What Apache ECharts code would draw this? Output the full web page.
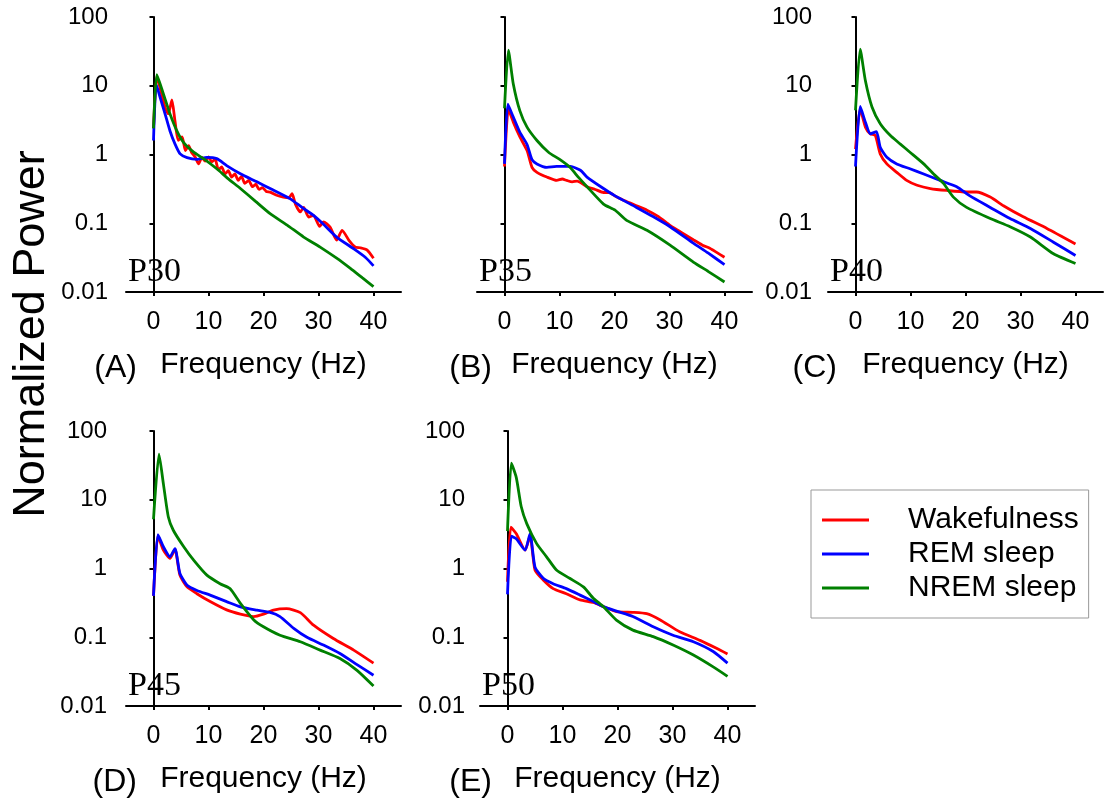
<!DOCTYPE html>
<html>
<head>
<meta charset="utf-8">
<script src="https://cdn.jsdelivr.net/npm/echarts@6/dist/echarts.min.js"></script>
<style>
  html, body { margin: 0; padding: 0; background: #fff; }
  #chart { width: 1104px; height: 807px; }
</style>
</head>
<body>
<div id="chart"></div>
<script>
// ---------- DATA (frequency Hz, normalized power) ----------
const seriesNames = ['Wakefulness', 'REM sleep', 'NREM sleep'];
const freqTicks = [0, 10, 20, 30, 40];
const panelLabels = ['P30', 'P35', 'P40', 'P45', 'P50'];
const panelLetters = ['(A)', '(B)', '(C)', '(D)', '(E)'];

const p30Wake = [[0,2.4],[0.6,14],[1.4,8],[2.1,4.85],[2.7,3.9],[3.35,6.2],[3.9,3.1],[4.5,1.6],[5.2,1.8],[5.8,1.14],[6.4,1.35],[6.9,1.08],[7.6,0.91],[8.2,0.73],[8.8,0.91],[9.4,0.8],[10,0.92],[10.6,0.78],[11.2,0.86],[11.8,0.6],[12.4,0.66],[13,0.52],[13.6,0.58],[14.2,0.47],[14.8,0.52],[15.4,0.42],[16,0.48],[16.6,0.38],[17.3,0.42],[18,0.34],[18.6,0.37],[19.2,0.31],[19.8,0.33],[20.5,0.29],[21.2,0.284],[22.4,0.255],[23.6,0.24],[24.6,0.235],[25.2,0.27],[25.8,0.19],[26.7,0.146],[27.3,0.17],[28.2,0.123],[29.1,0.13],[30.2,0.09],[30.9,0.105],[32.1,0.088],[33.3,0.057],[34.3,0.079],[35.5,0.057],[36.7,0.045],[37.6,0.044],[38.8,0.041],[40,0.031]];
const p30Rem = [[0,1.6],[0.5,10.5],[1.2,6.8],[2.1,3.9],[3,2.2],[3.9,1.43],[4.85,1.02],[6.1,0.9],[7.9,0.85],[9.7,0.91],[11.5,0.87],[13.3,0.69],[15.8,0.525],[18.8,0.4],[21.2,0.32],[24.8,0.228],[27,0.17],[29.1,0.13],[31,0.095],[33.3,0.063],[36.5,0.042],[38.5,0.032],[40,0.024]];
const p30Nrem = [[0,2.4],[0.6,14.5],[1.8,7.6],[3,3.9],[4.25,2.2],[5.45,1.5],[7.3,1.08],[9.1,0.87],[11.5,0.62],[13.5,0.45],[15.8,0.32],[18.5,0.21],[21.2,0.138],[24.3,0.094],[27.3,0.063],[30.3,0.045],[33.3,0.031],[35.8,0.022],[38,0.016],[40,0.012]];

const p35Wake = [[0,0.67],[0.7,4.6],[1.6,2.95],[2.8,1.8],[4.1,1.14],[5,0.65],[5.9,0.55],[7.7,0.47],[9.5,0.42],[10.5,0.44],[11.3,0.42],[12.3,0.4],[13.2,0.41],[15,0.34],[16.5,0.31],[18,0.28],[19,0.28],[20.1,0.25],[22,0.21],[24,0.18],[25.9,0.155],[28,0.125],[30.1,0.093],[32,0.075],[34.4,0.057],[36,0.048],[37.4,0.043],[38.5,0.038],[40,0.032]];
const p35Rem = [[0,0.73],[0.6,5.4],[1.6,3.5],[2.8,2.1],[4.1,1.4],[5,0.84],[5.9,0.73],[7.7,0.65],[9.5,0.67],[12,0.67],[13.8,0.59],[15,0.47],[18,0.32],[20.1,0.25],[24,0.17],[27,0.125],[30.1,0.089],[34.4,0.051],[37,0.037],[40,0.025]];
const p35Nrem = [[0,4.7],[0.7,33],[1.6,10.6],[2.8,4.3],[4.1,2.5],[5.9,1.6],[8,1.08],[10.1,0.84],[11.9,0.65],[13.5,0.46],[15,0.34],[18,0.19],[20.1,0.155],[22.2,0.11],[25.9,0.079],[30.1,0.048],[34.4,0.027],[37,0.02],[40,0.014]];

const p40Wake = [[0,1.2],[0.85,4.6],[1.8,2.5],[2.7,2.0],[3.6,1.9],[4.5,1.02],[5.7,0.73],[7.5,0.55],[9.3,0.42],[11.2,0.357],[13.6,0.32],[16.6,0.3],[20.2,0.285],[22,0.285],[24.5,0.24],[26.9,0.18],[30.5,0.124],[34.8,0.084],[40,0.05]];
const p40Rem = [[0,0.67],[0.85,5.0],[1.8,2.95],[2.7,2.0],[3.8,2.15],[4.5,1.27],[5.7,0.91],[7.5,0.73],[9.9,0.62],[12.4,0.52],[15.4,0.42],[18.4,0.34],[20.8,0.25],[24.5,0.17],[28.1,0.117],[31.8,0.084],[36,0.053],[40,0.034]];
const p40Nrem = [[0,4.4],[0.85,34],[1.8,11.8],[3,4.9],[4.5,2.8],[6.3,1.9],[8.1,1.43],[9.9,1.08],[12.4,0.73],[14.2,0.52],[16,0.38],[17.8,0.24],[20.2,0.17],[24.5,0.117],[28.1,0.089],[31.8,0.063],[36,0.036],[40,0.026]];

const p45Wake = [[0,0.4],[0.8,3.0],[1.8,1.85],[3,1.4],[3.9,1.9],[4.8,0.8],[6.1,0.54],[7.9,0.43],[10.3,0.33],[13.3,0.25],[15.8,0.217],[18.2,0.2],[20,0.217],[21.8,0.248],[24.2,0.26],[26.7,0.228],[29.1,0.15],[32.7,0.096],[36.4,0.065],[40,0.042]];
const p45Rem = [[0,0.4],[0.8,3.1],[1.8,2.07],[3,1.48],[3.9,1.95],[4.8,0.85],[6.1,0.57],[7.9,0.48],[10.3,0.41],[13.3,0.33],[15.8,0.277],[18.8,0.248],[21.2,0.23],[23,0.2],[25.5,0.135],[27.9,0.1],[30.9,0.077],[33.9,0.058],[37,0.04],[40,0.028]];
const p45Nrem = [[0,5.2],[1,46],[1.8,17],[2.7,5.6],[3.6,3.6],[5.5,2.07],[7.3,1.32],[9.7,0.8],[12.1,0.6],[13.9,0.51],[15.8,0.31],[18.2,0.18],[20,0.142],[23,0.107],[26.7,0.086],[30.3,0.065],[33.9,0.049],[37,0.033],[40,0.0195]];

const p50Wake = [[0,0.64],[0.6,4.0],[1.6,3.2],[3.2,1.85],[4.1,3.0],[5,0.95],[6.5,0.68],[8.3,0.51],[10.7,0.43],[13.2,0.35],[15.6,0.32],[17.4,0.28],[19.8,0.235],[22.8,0.23],[25.3,0.22],[27.7,0.18],[31.3,0.12],[35,0.09],[38,0.069],[40,0.057]];
const p50Rem = [[0,0.42],[0.7,2.95],[1.6,2.7],[3.2,1.85],[4.1,3.2],[5,1.05],[6.5,0.72],[8.3,0.6],[10.7,0.51],[13.2,0.41],[15.6,0.33],[17.4,0.28],[19.8,0.24],[22.8,0.2],[26.5,0.142],[30.1,0.107],[33.8,0.086],[37.4,0.062],[40,0.042]];
const p50Nrem = [[0,3.5],[0.7,34],[1.6,21],[2.5,7.9],[3.5,4.5],[5.3,2.3],[7.1,1.48],[8.9,0.95],[11.3,0.72],[13.8,0.54],[15.6,0.37],[17.4,0.28],[19.8,0.178],[22.8,0.127],[26.5,0.102],[30.1,0.077],[33.8,0.055],[37.4,0.037],[40,0.027]];

const panelData = [
  [p30Wake, p30Rem, p30Nrem],
  [p35Wake, p35Rem, p35Nrem],
  [p40Wake, p40Rem, p40Nrem],
  [p45Wake, p45Rem, p45Nrem],
  [p50Wake, p50Rem, p50Nrem]
];

// ---------- LAYOUT / STYLE ----------
const layout = [
  { left: 126, top: 17,  yLabels: true,  yMargin: 18, letterDx: 11 },
  { left: 477, top: 17,  yLabels: false, yMargin: 16, letterDx: 15 },
  { left: 828, top: 17,  yLabels: true,  yMargin: 16, letterDx: 9 },
  { left: 126, top: 431, yLabels: true,  yMargin: 19, letterDx: 11 },
  { left: 480, top: 431, yLabels: true,  yMargin: 15, letterDx: 12 }
];
const GW = 275, GH = 275;
const colors = ['#ff0000', '#0000ff', '#008000'];
const FONT = 'Liberation Sans, Arial, sans-serif';

const grids = [], xAxes = [], yAxes = [], series = [], graphics = [];
layout.forEach((L, i) => {
  grids.push({ left: L.left, top: L.top, width: GW, height: GH });
  xAxes.push({
    type: 'value', gridIndex: i, min: -5, max: 45,
    name: 'Frequency (Hz)', nameLocation: 'middle', nameGap: 58,
    nameTextStyle: { fontFamily: FONT, fontSize: 30, color: '#000' },
    axisLine: { lineStyle: { color: '#000', width: 2 } },
    axisTick: { show: true, length: 4, lineStyle: { color: '#000', width: 2 }, customValues: freqTicks },
    axisLabel: { fontFamily: FONT, fontSize: 25, color: '#000', margin: 18, customValues: freqTicks },
    splitLine: { show: false }
  });
  yAxes.push({
    type: 'log', logBase: 10, gridIndex: i, min: 0.01, max: 100,
    axisLine: { show: true, lineStyle: { color: '#000', width: 2 } },
    axisTick: { show: true, length: 4, lineStyle: { color: '#000', width: 2 } },
    minorTick: { show: false },
    axisLabel: {
      show: L.yLabels, fontFamily: FONT, fontSize: 24, color: '#000', margin: L.yMargin,
      formatter: v => String(parseFloat(Number(v).toPrecision(3)))
    },
    splitLine: { show: false }
  });
  panelData[i].forEach((d, k) => {
    series.push({
      name: seriesNames[k], type: 'line', xAxisIndex: i, yAxisIndex: i,
      data: d, showSymbol: false, symbol: 'none', smooth: 0.2,
      lineStyle: { color: colors[k], width: 2.8 }, itemStyle: { color: colors[k] },
      z: 2 + k
    });
  });
  graphics.push({
    type: 'text', left: L.left + 2, top: L.top + GH - 37,
    style: { text: panelLabels[i], font: '34px "Liberation Serif", "Times New Roman", serif', fill: '#000' }
  });
  graphics.push({
    type: 'text', x: L.left + L.letterDx, y: L.top + GH + 76,
    style: { text: panelLetters[i], font: '32px ' + FONT, fill: '#000', align: 'right', verticalAlign: 'middle' }
  });
});

graphics.push({
  type: 'text', x: 32, y: 334, rotation: Math.PI / 2,
  style: { text: 'Normalized Power', font: '45px ' + FONT, fill: '#000', align: 'center', verticalAlign: 'middle' }
});

const chart = echarts.init(document.getElementById('chart'), null, { renderer: 'canvas' });
chart.setOption({
  animation: false,
  backgroundColor: '#fff',
  grid: grids,
  xAxis: xAxes,
  yAxis: yAxes,
  legend: {
    data: seriesNames, orient: 'vertical', left: 811, top: 490,
    padding: [13, 10, 13, 11], itemGap: 0,
    icon: 'rect', itemWidth: 47, itemHeight: 3,
    borderColor: '#999', borderWidth: 1,
    textStyle: { fontFamily: FONT, fontSize: 30, color: '#000', lineHeight: 34, padding: [0, 0, 0, 34] }
  },
  graphic: graphics,
  series: series
});
</script>
</body>
</html>
